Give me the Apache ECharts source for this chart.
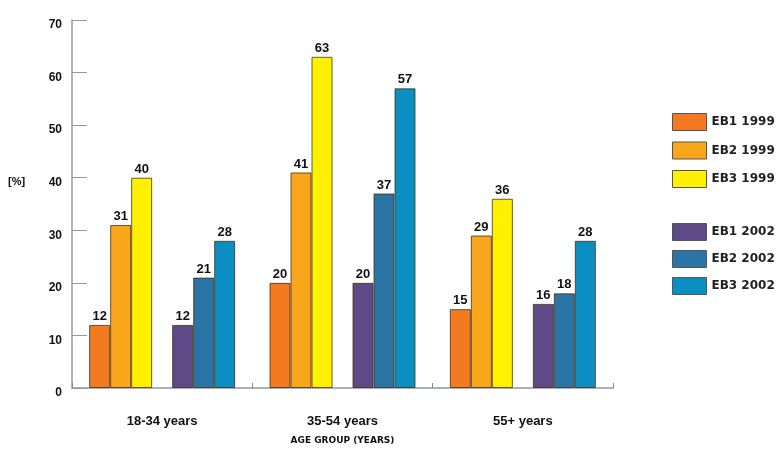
<!DOCTYPE html>
<html>
<head>
<meta charset="utf-8">
<script src="https://cdn.jsdelivr.net/npm/echarts@6/dist/echarts.min.js"></script>
<style>html,body{margin:0;padding:0;background:#fff;}#c{width:779px;height:450px;}</style>
</head>
<body>
<div id="c"></div>
<script>
const categories = ['18-34 years', '35-54 years', '55+ years'];
const seriesNames = ['EB1 1999', 'EB2 1999', 'EB3 1999', 'EB1 2002', 'EB2 2002', 'EB3 2002'];
const eb1_1999 = [12, 20, 15];
const eb2_1999 = [31, 41, 29];
const eb3_1999 = [40, 63, 36];
const eb1_2002 = [12, 20, 16];
const eb2_2002 = [21, 37, 18];
const eb3_2002 = [28, 57, 28];
const yTicks = [0, 10, 20, 30, 40, 50, 60, 70];

const colors = ['#F47A22', '#F9A61B', '#FFF100', '#5D4A86', '#2B74A6', '#0B8FC3'];
const values = [eb1_1999, eb2_1999, eb3_1999, eb1_2002, eb2_2002, eb3_2002];
const FONT = 'Liberation Sans';
const WIDE = 'DejaVu Sans';

function barSeries(i) {
  return {
    name: seriesNames[i],
    type: 'bar',
    barWidth: 21,
    barGap: '0%',
    data: values[i],
    itemStyle: { color: colors[i], borderColor: 'rgba(60,40,10,0.75)', borderWidth: 1 },
    label: {
      show: true, position: 'top', distance: 2,
      fontFamily: FONT, fontWeight: 'bold', fontSize: 13, color: '#111',
      textBorderColor: '#fff', textBorderWidth: 2
    }
  };
}

const series = [];
for (let i = 0; i < 3; i++) series.push(barSeries(i));
series.push({ name: 'spacer', type: 'bar', barWidth: 20, barGap: '0%', data: categories.map(() => null), silent: true });
for (let i = 3; i < 6; i++) series.push(barSeries(i));

const legendText = { fontFamily: WIDE, fontWeight: 'bold', fontSize: 12, color: '#222' };

const chart = echarts.init(document.getElementById('c'), null, { renderer: 'canvas' });
chart.setOption({
  animation: false,
  backgroundColor: '#fff',
  color: colors,
  grid: { left: 72, right: 166, top: 20, bottom: 62, containLabel: false },
  legend: [
    {
      orient: 'vertical', left: 667, top: 108, itemWidth: 34, itemHeight: 17, itemGap: 10.5,
      data: seriesNames.slice(0, 3), icon: 'rect',
      itemStyle: { borderColor: '#555', borderWidth: 1 },
      textStyle: legendText
    },
    {
      orient: 'vertical', left: 667, top: 218, itemWidth: 34, itemHeight: 17, itemGap: 9,
      data: seriesNames.slice(3, 6), icon: 'rect',
      itemStyle: { borderColor: '#555', borderWidth: 1 },
      textStyle: legendText
    }
  ],
  xAxis: {
    type: 'category',
    data: categories,
    name: 'AGE GROUP (YEARS)',
    nameLocation: 'middle',
    nameGap: 48,
    nameTextStyle: { fontFamily: WIDE, fontWeight: 'bold', fontSize: 9, color: '#111' },
    axisLine: { lineStyle: { color: '#a9b0bb', width: 2 } },
    axisTick: { show: true, inside: true, length: 5, lineStyle: { color: '#888' } },
    axisLabel: { margin: 27, fontFamily: FONT, fontWeight: 'bold', fontSize: 13, color: '#111' }
  },
  yAxis: {
    type: 'value',
    min: yTicks[0], max: yTicks[yTicks.length - 1], interval: 10,
    axisLine: { show: true, lineStyle: { color: '#999', width: 1.5 } },
    axisTick: { show: true, inside: true, length: 15, lineStyle: { color: '#999' } },
    splitLine: { show: false },
    axisLabel: { margin: 10, verticalAlign: 'top', lineHeight: 10, fontFamily: FONT, fontWeight: 'bold', fontSize: 12, color: '#111' }
  },
  graphic: [{
    type: 'text', left: 8, top: 176,
    style: { text: '[%]', fontFamily: FONT, fontWeight: 'bold', fontSize: 11, fill: '#111' }
  }],
  series: series
});
</script>
</body>
</html>
